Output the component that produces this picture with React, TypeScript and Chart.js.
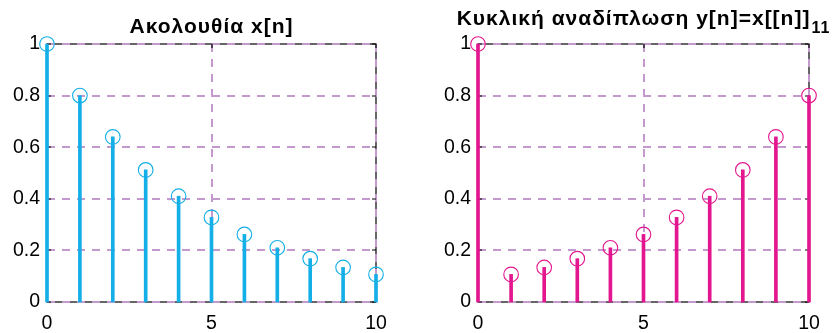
import React, { useEffect, useRef } from "react";
import { Chart, registerables } from "chart.js";

Chart.register(...registerables);

// ---------- data ----------
const nValues = [0, 1, 2, 3, 4, 5, 6, 7, 8, 9, 10];
const xSequence = [1, 0.8, 0.64, 0.512, 0.41, 0.328, 0.262, 0.21, 0.168, 0.134, 0.107];
const ySequence = [1, 0.107, 0.134, 0.168, 0.21, 0.262, 0.328, 0.41, 0.512, 0.64, 0.8];
const xTickValues = [0, 5, 10];
const yTickValues = [0, 0.2, 0.4, 0.6, 0.8, 1];
const leftTitle = "Ακολουθία x[n]";
const rightTitle = "Κυκλική αναδίπλωση y[n]=x[[n]]";
const rightTitleSub = "11";

const FONT = '"Liberation Sans", Arial, Helvetica, sans-serif';
const BLUE = "#14afe6";
const MAGENTA = "#e3168f";
const GRID = "#c49ace";

const framePlugin = {
  id: "stemFrame",
  beforeDatasetsDraw(chart: any) {
    const { ctx, chartArea } = chart;
    const { left, right, top, bottom } = chartArea;
    const xs = chart.scales.x;
    const ys = chart.scales.y;
    ctx.save();
    // box
    ctx.strokeStyle = "#000";
    ctx.lineWidth = 1.2;
    ctx.setLineDash([]);
    ctx.strokeRect(left, top, right - left, bottom - top);
    // grid
    ctx.strokeStyle = GRID;
    ctx.lineWidth = 2;
    ctx.setLineDash([8, 7]);
    yTickValues.forEach((v) => {
      const py = Math.round(ys.getPixelForValue(v));
      ctx.beginPath();
      ctx.moveTo(left, py);
      ctx.lineTo(right, py);
      ctx.stroke();
    });
    xTickValues.forEach((v) => {
      const px = Math.round(xs.getPixelForValue(v));
      ctx.beginPath();
      ctx.moveTo(px, top);
      ctx.lineTo(px, bottom);
      ctx.stroke();
    });
    // inward tick marks
    ctx.setLineDash([]);
    ctx.strokeStyle = "#000";
    ctx.lineWidth = 1.2;
    const tl = 4;
    yTickValues.forEach((v) => {
      const py = Math.round(ys.getPixelForValue(v));
      ctx.beginPath();
      ctx.moveTo(left, py);
      ctx.lineTo(left + tl, py);
      ctx.moveTo(right, py);
      ctx.lineTo(right - tl, py);
      ctx.stroke();
    });
    xTickValues.forEach((v) => {
      const px = Math.round(xs.getPixelForValue(v));
      ctx.beginPath();
      ctx.moveTo(px, bottom);
      ctx.lineTo(px, bottom - tl);
      ctx.moveTo(px, top);
      ctx.lineTo(px, top + tl);
      ctx.stroke();
    });
    ctx.restore();
  },
};

const titlePlugin = {
  id: "stemTitle",
  afterDraw(chart: any, _args: any, opts: any) {
    if (!opts || !opts.text) return;
    const { ctx, chartArea } = chart;
    const cx = (chartArea.left + chartArea.right) / 2;
    ctx.save();
    ctx.fillStyle = "#000";
    ctx.textAlign = "left";
    ctx.textBaseline = "alphabetic";
    (ctx as any).letterSpacing = opts.spacing || "0px";
    const mainFont = `bold ${opts.size}px ${FONT}`;
    const subFont = `bold ${opts.subSize}px ${FONT}`;
    ctx.font = mainFont;
    const w1 = ctx.measureText(opts.text).width;
    let w2 = 0;
    if (opts.sub) {
      ctx.font = subFont;
      w2 = ctx.measureText(opts.sub).width + 1;
    }
    const x0 = cx - (w1 + w2) / 2;
    ctx.font = mainFont;
    ctx.fillText(opts.text, x0, opts.baseline);
    if (opts.sub) {
      ctx.font = subFont;
      ctx.fillText(opts.sub, x0 + w1 + 1, opts.subBaseline);
    }
    ctx.restore();
  },
};

function makeConfig(values: number[], color: string, yAxisWidth: number, padRight: number, title: any) {
  const pts = nValues.map((n, i) => ({ x: n, y: values[i] }));
  return {
    type: "bar",
    data: {
      datasets: [
        {
          type: "scatter",
          data: pts,
          showLine: false,
          pointStyle: "circle",
          pointRadius: 7.3,
          pointHoverRadius: 7.3,
          pointBorderWidth: 1.1,
          pointBorderColor: color,
          pointBackgroundColor: "rgba(0,0,0,0)",
          clip: false,
          order: 1,
        },
        {
          type: "bar",
          data: pts,
          backgroundColor: color,
          borderWidth: 0,
          barThickness: 3,
          clip: false,
          order: 2,
        },
      ],
    },
    options: {
      responsive: false,
      animation: false,
      events: [],
      layout: { padding: { top: 44, right: padRight, left: 0, bottom: 0 } },
      plugins: {
        legend: { display: false },
        tooltip: { enabled: false },
        title: { display: false },
        stemTitle: title,
      },
      scales: {
        x: {
          type: "linear",
          min: 0,
          max: 10,
          offset: false,
          grid: { display: false, drawTicks: false },
          border: { display: false },
          afterBuildTicks: (s: any) => {
            s.ticks = xTickValues.map((v) => ({ value: v }));
          },
          afterFit: (s: any) => {
            s.height = 31;
          },
          ticks: {
            autoSkip: false,
            maxRotation: 0,
            padding: 10,
            color: "#000",
            font: { family: FONT, size: 19.5 },
            callback: (v: any) => String(v),
          },
        },
        y: {
          type: "linear",
          min: 0,
          max: 1,
          grid: { display: false, drawTicks: false },
          border: { display: false },
          afterBuildTicks: (s: any) => {
            s.ticks = yTickValues.map((v) => ({ value: v }));
          },
          afterFit: (s: any) => {
            s.width = yAxisWidth;
          },
          ticks: {
            autoSkip: false,
            padding: 7,
            color: "#000",
            font: { family: FONT, size: 19.5 },
            callback: (v: any) => String(Math.round(Number(v) * 10) / 10),
          },
        },
      },
    },
    plugins: [framePlugin, titlePlugin],
  };
}

function StemChart(props: { values: number[]; color: string; width: number; left: number; yAxisWidth: number; padRight: number; title: any }) {
  const ref = useRef<HTMLCanvasElement | null>(null);
  useEffect(() => {
    if (!ref.current) return;
    const chart = new Chart(ref.current, makeConfig(props.values, props.color, props.yAxisWidth, props.padRight, props.title) as any);
    return () => chart.destroy();
  }, []);
  return (
    <canvas
      ref={ref}
      width={props.width}
      height={333}
      style={{ position: "absolute", left: props.left, top: 0, width: props.width, height: 333 }}
    />
  );
}

export default function App() {
  return (
    <div style={{ position: "absolute", left: 0, top: 0, width: 835, height: 333, background: "#fff", overflow: "hidden" }}>
      <StemChart
        values={xSequence}
        color={BLUE}
        width={418}
        left={0}
        yAxisWidth={47}
        padRight={42}
        title={{ text: leftTitle, size: 21, spacing: "1px", baseline: 33 }}
      />
      <StemChart
        values={ySequence}
        color={MAGENTA}
        width={417}
        left={418}
        yAxisWidth={60}
        padRight={26}
        title={{ text: rightTitle, size: 21, spacing: "1px", baseline: 25, sub: rightTitleSub, subSize: 16, subBaseline: 33 }}
      />
    </div>
  );
}
